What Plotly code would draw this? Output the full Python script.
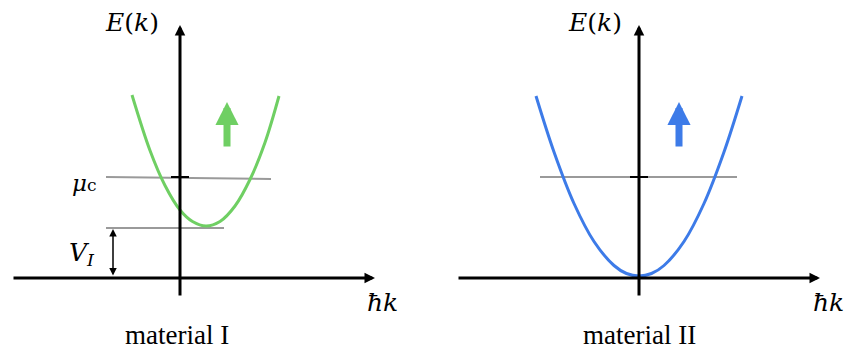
import plotly.graph_objects as go

# ---- data (arbitrary energy / momentum units) ----
# material I band (green)
k_band1 = [-0.96, -0.6, -0.3, 0.0, 0.25, 0.52, 0.8, 1.1, 1.4, 1.7, 1.98]
E_band1 = [3.66, 2.55, 1.85, 1.36, 1.13, 1.04, 1.13, 1.44, 1.97, 2.71, 3.64]
# material II band (blue)
k_band2 = [-2.06, -1.7, -1.3, -0.9, -0.5, -0.25, 0.0, 0.25, 0.5, 0.9, 1.3, 1.7, 2.06]
E_band2 = [3.64, 2.52, 1.49, 0.73, 0.25, 0.09, 0.04, 0.09, 0.25, 0.73, 1.49, 2.52, 3.64]

mu_k1 = [-1.48, 1.82]
mu_E1 = [2.02, 1.98]
VI_k = [-1.48, 0.88]
VI_E = [1.0, 1.0]
mu_k2 = [-1.98, 1.96]
mu_E2 = [2.02, 2.02]
tick_k = [-0.18, 0.18]
tick_E = [2.02, 2.02]

VI_arrow_k = -1.34
spin_k1 = 0.94
spin_k2 = 0.8
spin_E = [2.6, 3.52]

xaxis_ext1 = [-3.36, 3.9]
xaxis_ext2 = [-3.64, 3.62]
yaxis_ext = [-0.38, 5.06]

GREEN = "#6fcf63"
BLUE = "#3d7be8"
GRAY = "#9a9a9a"
SERIF_MATH = "DejaVu Serif"
SERIF_TEXT = "Liberation Serif"

fig = go.Figure()

def add_line(xs, ys, color, width, axis):
    fig.add_trace(go.Scatter(x=xs, y=ys, mode="lines", line=dict(color=color, width=width),
                             xaxis=axis[0], yaxis=axis[1], hoverinfo="skip", showlegend=False))

ax1 = ("x", "y")
ax2 = ("x2", "y2")

add_line(mu_k1, mu_E1, GRAY, 2, ax1)
add_line(VI_k, VI_E, GRAY, 2, ax1)
add_line(tick_k, tick_E, "black", 2, ax1)
add_line(mu_k2, mu_E2, GRAY, 2, ax2)
add_line(tick_k, tick_E, "black", 2, ax2)

fig.add_trace(go.Scatter(x=k_band1, y=E_band1, mode="lines", line=dict(color=GREEN, width=3, shape="spline"),
                         xaxis="x", yaxis="y", hoverinfo="skip", showlegend=False))
fig.add_trace(go.Scatter(x=k_band2, y=E_band2, mode="lines", line=dict(color=BLUE, width=3, shape="spline"),
                         xaxis="x2", yaxis="y2", hoverinfo="skip", showlegend=False))

annotations = []

def arrow(xr, yr, x0, y0, x1, y1, color, width, size, both=False):
    annotations.append(dict(xref=xr, yref=yr, axref=xr, ayref=yr, x=x1, y=y1, ax=x0, ay=y0,
                            text="", showarrow=True, arrowhead=2, arrowwidth=width, arrowsize=size,
                            arrowcolor=color, arrowside="end+start" if both else "end",
                            startarrowhead=2, startarrowsize=size, standoff=0, startstandoff=0))

# axes with arrows
arrow("x", "y", xaxis_ext1[0], 0, xaxis_ext1[1], 0, "black", 3, 0.7)
arrow("x", "y", 0, yaxis_ext[0], 0, yaxis_ext[1], "black", 3, 0.7)
arrow("x2", "y2", xaxis_ext2[0], 0, xaxis_ext2[1], 0, "black", 3, 0.7)
arrow("x2", "y2", 0, yaxis_ext[0], 0, yaxis_ext[1], "black", 3, 0.7)
# V_I double arrow
arrow("x", "y", VI_arrow_k, 0.02, VI_arrow_k, VI_E[0] - 0.02, "black", 1.5, 1.0, both=True)
# spin arrows
arrow("x", "y", spin_k1, spin_E[0], spin_k1, spin_E[1], GREEN, 7, 0.66)
arrow("x2", "y2", spin_k2, spin_E[0], spin_k2, spin_E[1], BLUE, 7, 0.66)

def label(xr, yr, x, y, text, size, family, color="black"):
    annotations.append(dict(xref=xr, yref=yr, x=x, y=y, text=text, showarrow=False,
                            font=dict(size=size, family=family, color=color),
                            xanchor="center", yanchor="middle"))

label("x", "y", -0.96, 5.12, "<i>E</i>(<i>k</i>)", 25, SERIF_MATH)
label("x2", "y2", -0.88, 5.12, "<i>E</i>(<i>k</i>)", 25, SERIF_MATH)
label("x", "y", 4.04, -0.48, "<i>ħk</i>", 25, SERIF_MATH)
label("x2", "y2", 3.78, -0.48, "<i>ħk</i>", 25, SERIF_MATH)
label("x", "y", -1.92, 1.9, "<i>μ</i><span style='font-size:17px'>c</span>", 23, SERIF_MATH)
label("x", "y", -1.96, 0.48, "<i>V</i><sub><i>I</i></sub>", 25, SERIF_MATH)
label("x", "y", -0.06, -1.14, "material I", 27, SERIF_TEXT)
label("x2", "y2", 0.0, -1.14, "material II", 27, SERIF_TEXT)

hidden = dict(visible=False, showgrid=False, zeroline=False, fixedrange=True)
fig.update_layout(
    width=858, height=352,
    margin=dict(l=0, r=0, t=0, b=0),
    paper_bgcolor="white", plot_bgcolor="white",
    xaxis=dict(domain=[0, 0.5], range=[-3.6, 4.98], **hidden),
    yaxis=dict(domain=[0, 1], range=[-1.48, 5.56], **hidden),
    xaxis2=dict(domain=[0.5, 1], range=[-4.2, 4.38], anchor="y2", **hidden),
    yaxis2=dict(domain=[0, 1], range=[-1.48, 5.56], anchor="x2", **hidden),
    annotations=annotations,
    showlegend=False,
)

fig.write_html("out.html", config={"displayModeBar": False},
               post_script="document.body.style.margin='0';document.body.style.overflow='hidden';")
